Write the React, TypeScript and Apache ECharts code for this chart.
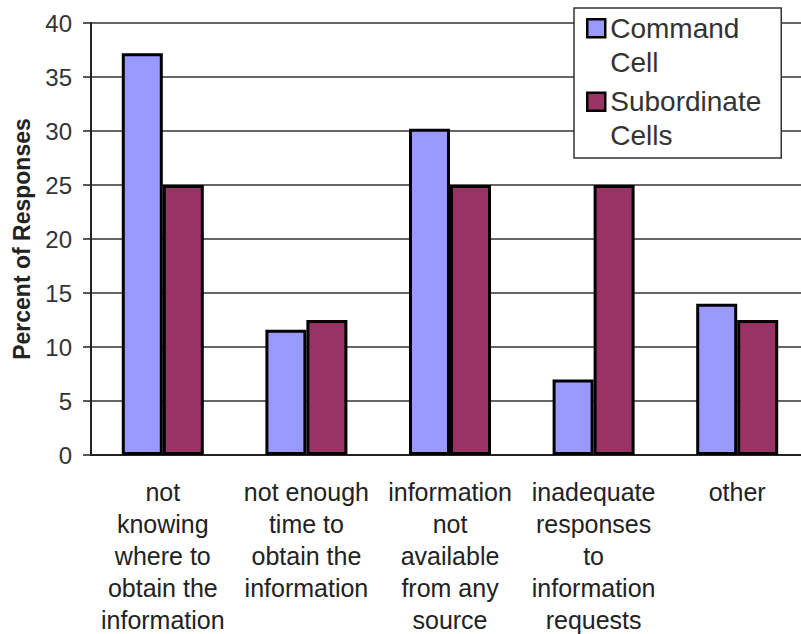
import React, { useEffect, useRef } from "react";
import * as echarts from "echarts";

const categories = [
  "not\nknowing\nwhere to\nobtain the\ninformation",
  "not enough\ntime to\nobtain the\ninformation",
  "information\nnot\navailable\nfrom any\nsource",
  "inadequate\nresponses\nto\ninformation\nrequests",
  "other",
];
const commandCell = [37.2, 11.6, 30.2, 7.0, 14.0];
const subordinateCells = [25, 12.5, 25, 25, 12.5];
const seriesNames = ["Command\nCell", "Subordinate\nCells"];
const yTicks = { min: 0, max: 40, interval: 5 };

const FONT = "'Liberation Sans', Arial, sans-serif";

export default function App() {
  const ref = useRef<HTMLDivElement>(null);
  useEffect(() => {
    if (!ref.current) return;
    const chart = echarts.init(ref.current, undefined, { renderer: "svg" });
    const iconPath = "path://M0,0M0,68M0,8H18V26H0Z";
    chart.setOption({
      animation: false,
      backgroundColor: "#fff",
      textStyle: { fontFamily: FONT },
      grid: {
        left: 91,
        top: 23,
        height: 432,
        width: 718,
        containLabel: false,
        outerBoundsMode: "none",
      },
      legend: {
        orient: "vertical",
        left: 574,
        top: 8,
        padding: [2, 20, 4, 12],
        itemGap: 3,
        itemWidth: 18,
        itemHeight: 68,
        icon: iconPath,
        backgroundColor: "#fff",
        borderColor: "#333",
        borderWidth: 1.5,
        itemStyle: { borderColor: "#000", borderWidth: 2.5 },
        textStyle: { fontSize: 28, lineHeight: 34, color: "#333", fontFamily: FONT },
        data: seriesNames,
      },
      xAxis: {
        type: "category",
        data: categories,
        axisLine: { lineStyle: { color: "#222", width: 2 } },
        axisTick: { length: 9, lineStyle: { color: "#222", width: 1.5 } },
        axisLabel: {
          fontSize: 25,
          lineHeight: 32,
          color: "#222",
          margin: 21,
          interval: 0,
          fontFamily: FONT,
        },
      },
      yAxis: {
        type: "value",
        min: yTicks.min,
        max: yTicks.max,
        interval: yTicks.interval,
        name: "Percent of Responses",
        nameLocation: "middle",
        nameGap: 58,
        nameTextStyle: { fontSize: 23, fontWeight: "bold", color: "#222", fontFamily: FONT },
        axisLine: { show: true, lineStyle: { color: "#222", width: 2 } },
        axisTick: { show: true, length: 8, lineStyle: { color: "#222", width: 1.5 } },
        axisLabel: { fontSize: 24, color: "#333", margin: 19, fontFamily: FONT },
        splitLine: { show: true, lineStyle: { color: "#333", width: 1.5 } },
      },
      series: [
        {
          name: seriesNames[0],
          type: "bar",
          data: commandCell,
          barWidth: 41,
          barGap: "0%",
          itemStyle: { color: "#9999FF", borderColor: "#000", borderWidth: 3 },
        },
        {
          name: seriesNames[1],
          type: "bar",
          data: subordinateCells,
          barWidth: 41,
          barGap: "0%",
          itemStyle: { color: "#993366", borderColor: "#000", borderWidth: 3 },
        },
      ],
    });
    return () => chart.dispose();
  }, []);
  return (
    <div
      ref={ref}
      style={{ position: "absolute", left: 0, top: 0, width: 801, height: 634 }}
    />
  );
}
